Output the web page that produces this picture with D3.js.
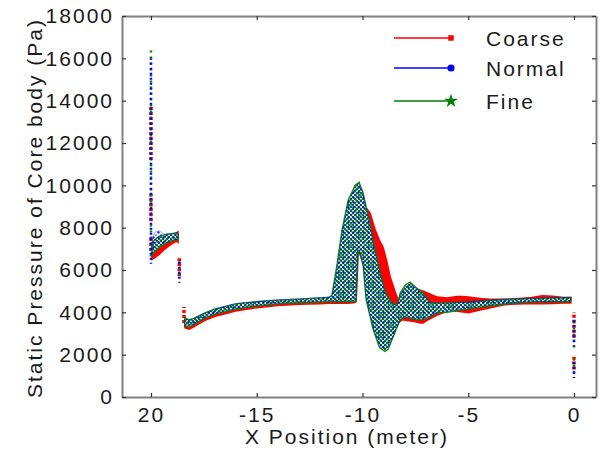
<!DOCTYPE html>
<html>
<head>
<meta charset="utf-8">
<script src="https://d3js.org/d3.v7.min.js"></script>
<style>
body{margin:0;background:#fff}
svg{display:block}
text{font-family:"Liberation Sans",Arial,sans-serif}
</style>
</head>
<body>
<svg></svg>
<script>
// tick labels
var xTicks = [-20, -15, -10, -5, 0]
var xTickLabels = ["20", "-15", "-10", "-5", "0"]
var yTicks = [0, 2000, 4000, 6000, 8000, 10000, 12000, 14000, 16000, 18000]
var seriesNames = ["Coarse", "Normal", "Fine"]

// main body band (min / max pressure at each x)
var fineX = [-18.4,-18.2,-18.0,-17.5,-17.0,-16.0,-15.0,-14.0,-13.0,-12.0,
    -11.6,-11.45,-11.2,-10.97,-10.68,-10.35,-10.3,-10.22,-10.16,-9.97,
    -9.83,-9.64,-9.5,-9.26,-9.17,-8.93,-8.79,-8.55,-8.36,-8.22,
    -7.98,-7.75,-7.5,-7.13,-6.8,-6.5,-6.0,-5.5,-5.0,-4.0,
    -3.0,-2.0,-1.0,-0.15]
var fineHi = [3750,3650,3700,3950,4150,4400,4500,4580,4620,4680,
    4700,4800,6300,7900,9300,10000,10050,10100,10150,9640,
    9000,8220,7400,6330,5900,5000,4700,4400,4350,4910,
    5290,5430,5200,4910,4440,4450,4450,4480,4480,4560,
    4620,4650,4680,4700]
var fineLo = [3350,3300,3400,3700,3900,4150,4300,4400,4450,4480,
    4500,4500,4500,4500,4500,4500,4600,6900,6900,6200,
    4600,3800,3200,2500,2300,2150,2250,2830,3310,3640,
    3780,3720,3660,3640,3780,3970,4000,4080,4150,4300,
    4420,4480,4500,4500]

var normalX = fineX
var normalHi = [3700,3620,3700,3950,4150,4420,4520,4600,4640,4700,
    4720,4750,6000,7700,9200,9900,9950,10000,10050,9600,
    8900,8100,7300,6200,5800,4900,4650,4380,4300,4800,
    5200,5350,5150,4850,4450,4420,4420,4460,4500,4580,
    4640,4660,4690,4700]
var normalLo = [3400,3380,3450,3750,3950,4200,4350,4450,4500,4520,
    4550,4550,4550,4550,4550,4550,4650,6950,6950,6300,
    4700,3900,3300,2600,2400,2250,2350,2900,3350,3680,
    3800,3760,3700,3680,3820,4000,4050,4120,4200,4350,
    4450,4500,4520,4530]

var coarseX = [-18.4,-18.2,-18.0,-17.5,-17.0,-16.0,-15.0,-14.0,-13.0,-12.0,
    -11.6,-11.4,-11.2,-11.0,-10.7,-10.4,-10.3,-10.2,-10.0,-9.8,
    -9.64,-9.4,-9.2,-9.03,-8.85,-8.69,-8.5,-8.32,-8.1,-7.8,
    -7.5,-7.27,-7.13,-6.9,-6.47,-6.0,-5.86,-5.5,-5.24,-5.0,
    -4.44,-4.0,-3.35,-3.0,-2.0,-1.5,-1.0,-0.5,-0.15]
var coarseHi = [3650,3580,3650,3880,4080,4320,4450,4520,4580,4620,
    4650,4650,5400,6600,8000,8700,8850,8950,9000,8900,
    8690,7900,7400,7090,6400,5670,5100,4580,4600,5000,
    5100,5050,5000,4900,4720,4680,4700,4750,4750,4720,
    4650,4620,4620,4620,4700,4780,4760,4700,4700]
var coarseLo = [3270,3200,3300,3600,3800,4060,4220,4320,4380,4410,
    4430,4430,4430,4430,4430,4450,4500,6900,6500,5300,
    4300,3500,2900,2500,2450,2600,3100,3500,3650,3600,
    3550,3500,3500,3650,3870,4050,4110,4050,4020,3980,
    4110,4200,4350,4380,4420,4400,4420,4440,4440]

// small hump near the nose
var humpX = [-19.95,-19.8,-19.6,-19.4,-19.2,-19.0,-18.8,-18.72]
var fineHumpHi = [7300,7450,7600,7650,7700,7720,7750,7700]
var fineHumpLo = [6700,6900,7050,7200,7300,7380,7450,7400]
var normalHumpHi = [7500,7800,7850,7700,7700,7720,7780,7700]
var normalHumpLo = [6800,7000,7150,7250,7350,7420,7450,7420]
var coarseHumpHi = [7100,7250,7400,7500,7600,7650,7750,7800]
var coarseHumpLo = [6500,6600,6750,6950,7100,7250,7350,7300]

// vertical runs of points (same x, many pressures)
var coarseSpikeX = [-20.0,-20.0,-20.0,-18.66,-18.44,0.0,0.0]
var coarseSpikeLo = [11200,8300,6900,5700,3500,2800,1300]
var coarseSpikeHi = [13800,9600,7600,6600,4250,4000,1900]
var normalSpikeX = [-20.0,-18.66,0.0,0.0]
var normalSpikeLo = [6300,5400,2400,900]
var normalSpikeHi = [16000,6500,3700,1700]
var fineSpikeX = [-20.0,-18.66,0.0,0.0]
var fineSpikeLo = [6500,5600,2200,1000]
var fineSpikeHi = [16400,6600,3700,1800]

var screen = {width:600, height:450}
var margins = {top:16, bottom:53, left:122, right:4}

var rows = function(xs, lo, hi)
{
    return xs.map(function(x, i){ return {x:x, lo:lo[i], hi:hi[i]} })
}

var series = [
    {name:seriesNames[0], color:"#ff0000", body:rows(coarseX,coarseLo,coarseHi),
     hump:rows(humpX,coarseHumpLo,coarseHumpHi), spikes:rows(coarseSpikeX,coarseSpikeLo,coarseSpikeHi),
     dash:"3,2", offset:0, edge:1.5, edgeOpacity:1},
    {name:seriesNames[1], color:"#0000ff", body:rows(normalX,normalLo,normalHi),
     hump:rows(humpX,normalHumpLo,normalHumpHi), spikes:rows(normalSpikeX,normalSpikeLo,normalSpikeHi),
     dash:"2,3", offset:1, edge:1, edgeOpacity:0.35},
    {name:seriesNames[2], color:"#008000", body:rows(fineX,fineLo,fineHi),
     hump:rows(humpX,fineHumpLo,fineHumpHi), spikes:rows(fineSpikeX,fineSpikeLo,fineSpikeHi),
     dash:"2,4", offset:3, edge:1.3, edgeOpacity:0.9}
]

// dot fills: [tile size, background, [cx, cy, r]...]; Coarse is drawn solid
var patterns = {
    Normal: [5, "none", [1.5, 1.5, 1.15], [4, 4, 0.8]],
    Fine:   [4, "#ffffff", [3, 1, 1.35], [1, 3, 1.35]]
}
// Fine is painted before Normal so the blue dots sit on the green
var drawOrder = ["Coarse", "Fine", "Normal"]

var setup = function()
{
    var svg = d3.select("svg")
        .attr("width", screen.width)
        .attr("height", screen.height)

    var width = screen.width - margins.left - margins.right
    var height = screen.height - margins.top - margins.bottom

    var xScale = d3.scaleLinear().domain([-21.37, 1.04]).range([0, width])
    var yScale = d3.scaleLinear().domain([0, 18000]).range([height, 0])

    var defs = svg.append("defs")
    defs.append("clipPath").attr("id", "clip")
        .append("rect").attr("width", width).attr("height", height)

    series.forEach(function(s)
    {
        var p = patterns[s.name]
        if (!p) return
        var pat = defs.append("pattern").attr("id", "pat-" + s.name)
            .attr("patternUnits", "userSpaceOnUse").attr("width", p[0]).attr("height", p[0])
        pat.append("rect").attr("width", p[0]).attr("height", p[0]).attr("fill", p[1])
        p.slice(2).forEach(function(c){
            pat.append("circle").attr("cx", c[0]).attr("cy", c[1]).attr("r", c[2])
                .attr("fill", s.color)
        })
    })

    var graph = svg.append("g").attr("id", "graph")
        .attr("transform", "translate(" + margins.left + "," + margins.top + ")")

    var plot = graph.append("g").attr("clip-path", "url(#clip)")

    var area = d3.area()
        .x(function(d){ return xScale(d.x) })
        .y0(function(d){ return yScale(d.lo) })
        .y1(function(d){ return yScale(d.hi) })

    drawOrder.forEach(function(name)
    {
        var s = series.filter(function(d){ return d.name == name })[0]
        var g = plot.append("g").attr("class", "series")
        g.selectAll("path.band")
            .data([s.body, s.hump])
            .enter()
            .append("path")
            .attr("class", "band")
            .attr("d", area)
            .attr("fill", patterns[s.name] ? "url(#pat-" + s.name + ")" : s.color)
            .attr("stroke", s.color)
            .attr("stroke-width", s.edge)
            .attr("stroke-opacity", s.edgeOpacity)

        g.selectAll("line.spike")
            .data(s.spikes)
            .enter()
            .append("line")
            .attr("class", "spike")
            .attr("x1", function(d){ return xScale(d.x) })
            .attr("x2", function(d){ return xScale(d.x) })
            .attr("y1", function(d){ return yScale(d.lo) })
            .attr("y2", function(d){ return yScale(d.hi) })
            .attr("stroke", s.color)
            .attr("stroke-width", s.name == "Coarse" ? 3.5 : 2.5)
            .attr("stroke-dasharray", s.dash)
            .attr("stroke-dashoffset", s.offset)
    })

    // box axes, ticks pointing inward
    var axes = graph.append("g").attr("class", "axis")
    var fmt = function(d){ return xTickLabels[xTicks.indexOf(d)] }

    axes.append("g").attr("transform", "translate(0," + height + ")")
        .call(d3.axisBottom(xScale).tickValues(xTicks).tickFormat(fmt)
            .tickSizeInner(-4).tickSizeOuter(0).tickPadding(10))
    axes.append("g")
        .call(d3.axisTop(xScale).tickValues(xTicks).tickFormat("")
            .tickSizeInner(-4).tickSizeOuter(0))
    axes.append("g")
        .call(d3.axisLeft(yScale).tickValues(yTicks).tickFormat(d3.format("d"))
            .tickSizeInner(-4).tickSizeOuter(0).tickPadding(8))
    axes.append("g").attr("transform", "translate(" + width + ",0)")
        .call(d3.axisRight(yScale).tickValues(yTicks).tickFormat("")
            .tickSizeInner(-4).tickSizeOuter(0))

    axes.selectAll(".domain").attr("stroke", "#808080").attr("stroke-width", 2)
    axes.selectAll(".tick line").attr("stroke", "#333").attr("stroke-width", 1.2)
    axes.selectAll(".tick text")
        .attr("font-family", "Liberation Sans, Arial, sans-serif")
        .attr("font-size", 21)
        .attr("letter-spacing", 2)
        .attr("fill", "#1a1a1a")

    svg.append("text")
        .attr("x", 347).attr("y", 444)
        .attr("text-anchor", "middle")
        .attr("font-size", 21).attr("letter-spacing", 2).attr("fill", "#1a1a1a")
        .text("X Position (meter)")

    svg.append("text")
        .attr("transform", "translate(42,208) rotate(-90)")
        .attr("text-anchor", "middle")
        .attr("font-size", 21).attr("letter-spacing", 2).attr("fill", "#1a1a1a")
        .text("Static Pressure of Core body (Pa)")

    // legend
    var legend = svg.append("g").attr("class", "legend")
    var items = legend.selectAll("g")
        .data(series)
        .enter()
        .append("g")
        .attr("transform", function(d, i){ return "translate(0," + [38, 68, 101][i] + ")" })

    items.append("line")
        .attr("x1", 394).attr("x2", 452)
        .attr("stroke", function(d){ return d.color })
        .attr("stroke-width", 1.5)
    items.append("path")
        .attr("transform", "translate(451,0)")
        .attr("d", function(d, i){
            var sym = [d3.symbolSquare, d3.symbolCircle, d3.symbolStar][i]
            return d3.symbol(sym).size([30, 40, 60][i])()
        })
        .attr("fill", function(d){ return d.color })
    items.append("text")
        .attr("x", 486).attr("y", 8)
        .attr("font-size", 21).attr("letter-spacing", 2).attr("fill", "#1a1a1a")
        .text(function(d){ return d.name })
}

setup()
</script>
</body>
</html>
